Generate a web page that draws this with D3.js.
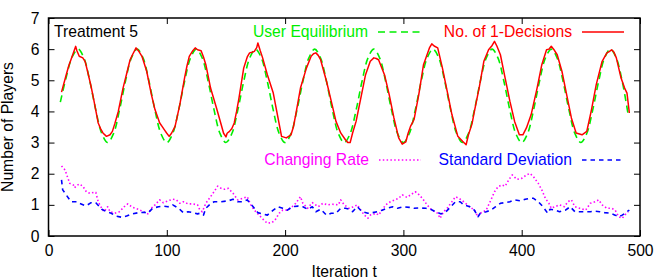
<!DOCTYPE html>
<html>
<head>
<meta charset="utf-8">
<script src="https://cdn.jsdelivr.net/npm/d3@7"></script>
<style>
  html, body { margin: 0; padding: 0; background: #ffffff; }
  svg { display: block; font-family: 'Liberation Sans', Arial, Helvetica, sans-serif; }
</style>
</head>
<body>
<div id="chart"></div>
<script>
// iteration ticks / value ticks
const xTicks = [0, 100, 200, 300, 400, 500]
const yTicks = [0, 1, 2, 3, 4, 5, 6, 7]

// user equilibrium, sampled every 5 iterations from t = 10
const ueIter = d3.range(10, 491, 5)
const ueVal = [
  4.3, 5.1, 5.75,
  6.0, 5.71, 4.96, 4.04, 3.29, 3.0, 3.29, 4.04, 4.96, 5.71,
  6.0, 5.71, 4.96, 4.04, 3.29, 3.0, 3.29, 4.04, 4.96, 5.71,
  6.0, 5.71, 4.96, 4.04, 3.29, 3.0, 3.29, 4.04, 4.96, 5.71,
  6.0, 5.71, 4.96, 4.04, 3.29, 3.0, 3.29, 4.04, 4.96, 5.71,
  6.0, 5.71, 4.96, 4.04, 3.29, 3.0, 3.29, 4.04, 4.96, 5.71,
  6.0, 5.71, 4.96, 4.04, 3.29, 3.0, 3.29, 4.04, 4.96, 5.71,
  6.0, 5.71, 4.96, 4.04, 3.29, 3.0, 3.29, 4.04, 4.96, 5.71,
  6.0, 5.71, 4.96, 4.04, 3.29, 3.0, 3.29, 4.04, 4.96, 5.71,
  6.0, 5.71, 4.96, 4.04, 3.29, 3.0, 3.29, 4.04, 4.96, 5.71,
  6.0, 5.71, 4.96, 3.9
]

// number of 1-decisions
const decIter = [11, 15, 17, 21, 23, 24, 26, 29, 31, 33, 36, 38, 42, 44, 46, 49, 52, 54, 56, 59,
  63, 66, 69, 71, 74, 76, 79, 83, 87, 90, 94, 96, 98, 100, 102, 104, 107, 111, 115, 117,
  119, 122, 124, 126, 129, 131, 133, 137, 142, 146, 148, 150, 151, 153, 155, 157, 159, 161, 165, 168,
  170, 172, 174, 176, 177, 179, 181, 185, 190, 194, 197, 201, 203, 205, 207, 209, 213, 218, 222, 224,
  226, 228, 230, 235, 239, 243, 247, 251, 253, 255, 257, 260, 264, 268, 272, 275, 277, 279, 284, 288,
  292, 296, 299, 302, 304, 306, 309, 313, 317, 322, 324, 326, 329, 333, 337, 341, 346, 350, 353, 355,
  358, 360, 364, 368, 372, 375, 377, 379, 382, 386, 390, 394, 398, 401, 404, 408, 413, 417, 421, 423,
  425, 427, 430, 434, 438, 442, 446, 451, 455, 457, 459, 463, 468, 472, 474, 476, 478, 480, 484, 487,
  489, 491]
const decVal = [4.62, 5.18, 5.45, 5.88, 6.09, 5.95, 5.77, 5.72, 5.6, 5.29, 4.8, 4.43, 3.63, 3.45, 3.31, 3.2, 3.25, 3.36, 3.6, 4.0,
  4.75, 5.2, 5.66, 5.82, 6.04, 5.95, 5.77, 5.29, 4.54, 4.06, 3.63, 3.52, 3.41, 3.3, 3.2, 3.3, 3.52, 4.22, 5.07, 5.45,
  5.77, 5.95, 6.04, 5.98, 5.95, 5.75, 5.5, 4.75, 4.11, 3.57, 3.3, 3.18, 3.3, 3.36, 3.45, 3.63, 4.0, 4.43, 5.39, 5.75,
  5.88, 5.9, 5.93, 6.05, 6.2, 5.95, 5.72, 5.18, 4.59, 3.79, 3.2, 3.15, 3.2, 3.25, 3.5, 3.9, 4.75, 5.39, 5.77, 5.85,
  5.88, 5.8, 5.66, 4.97, 4.33, 3.68, 3.31, 3.09, 3.0, 3.0, 3.3, 3.68, 4.43, 5.18, 5.61, 5.72, 5.7, 5.66, 5.18, 4.54,
  3.79, 3.15, 2.95, 3.02, 3.3, 3.52, 3.74, 4.54, 5.5, 6.04, 6.17, 6.1, 6.04, 5.39, 4.65, 3.9, 3.2, 3.04, 2.93, 3.25,
  3.6, 4.0, 4.75, 5.61, 5.98, 6.12, 6.25, 6.1, 5.82, 5.07, 4.33, 3.68, 3.25, 3.25, 3.47, 3.9, 4.75, 5.5, 5.98, 6.0,
  6.09, 6.0, 5.82, 5.29, 4.54, 3.79, 3.31, 3.25, 3.36, 3.7, 4.06, 4.86, 5.61, 5.88, 5.92, 5.98, 5.9, 5.72, 5.07, 4.75,
  4.59, 3.95]

// changing rate
const rateIter = [11, 14, 16, 18, 21, 22, 24, 26, 29, 32, 35, 38, 40, 42, 45, 47, 50, 52, 56, 60,
  64, 67, 71, 76, 80, 84, 87, 90, 94, 97, 101, 105, 108, 111, 114, 118, 122, 126, 128, 130,
  133, 136, 139, 143, 146, 149, 152, 156, 160, 164, 168, 171, 174, 178, 182, 185, 189, 192, 195, 198,
  202, 206, 209, 213, 215, 219, 223, 228, 232, 236, 240, 245, 247, 250, 254, 258, 261, 264, 267, 270,
  272, 277, 279, 282, 285, 289, 294, 296, 299, 303, 306, 310, 312, 316, 320, 324, 329, 331, 334, 337,
  341, 344, 347, 351, 356, 360, 363, 365, 370, 374, 377, 380, 383, 386, 389, 392, 396, 400, 404, 407,
  410, 414, 417, 420, 423, 425, 428, 432, 436, 439, 442, 445, 449, 454, 458, 462, 465, 468, 472, 476,
  479, 482, 485, 487, 490]
const rateVal = [2.25, 2.12, 1.9, 1.69, 1.64, 1.55, 1.62, 1.67, 1.6, 1.42, 1.37, 1.4, 1.4, 1.1, 0.89, 0.78, 0.94, 0.78, 0.73, 0.78,
  0.94, 1.03, 0.92, 0.86, 0.78, 0.71, 0.89, 1.0, 1.16, 1.07, 1.13, 1.18, 1.16, 1.05, 1.1, 1.03, 1.03, 1.0, 0.83, 0.78,
  1.05, 1.21, 1.37, 1.6, 1.53, 1.5, 1.53, 1.37, 1.16, 1.21, 1.26, 1.0, 0.83, 0.67, 0.51, 0.41, 0.43, 0.54, 0.73, 0.83,
  0.83, 0.94, 1.05, 1.26, 1.05, 0.89, 1.07, 0.94, 1.05, 1.0, 1.02, 1.0, 1.16, 1.0, 0.89, 0.94, 1.0, 0.83, 0.67, 0.57,
  0.67, 0.73, 0.67, 0.83, 1.0, 1.1, 1.18, 1.21, 1.32, 1.24, 1.32, 1.42, 1.37, 1.21, 1.0, 0.83, 0.73, 0.57, 0.78, 0.89,
  1.1, 1.26, 1.21, 1.1, 0.94, 0.83, 0.62, 0.73, 0.83, 1.16, 1.42, 1.58, 1.64, 1.6, 1.8, 1.96, 1.82, 1.85, 1.96, 2.01,
  1.9, 1.69, 1.48, 1.21, 1.05, 0.89, 0.94, 1.0, 0.94, 1.1, 1.16, 0.94, 0.89, 0.83, 1.05, 1.1, 1.16, 1.0, 0.89, 0.89,
  0.83, 0.62, 0.57, 0.67, 0.78]

// standard deviation
const sdIter = [11, 12, 15, 19, 24, 26, 31, 33, 36, 40, 45, 49, 53, 57, 62, 66, 70, 76, 81, 84,
  88, 93, 97, 101, 105, 110, 114, 118, 122, 126, 128, 131, 133, 136, 140, 146, 152, 156, 160, 164,
  168, 173, 177, 181, 185, 190, 194, 198, 202, 206, 211, 215, 219, 223, 226, 230, 235, 239, 243, 247,
  251, 254, 257, 261, 265, 270, 274, 278, 282, 286, 291, 295, 300, 305, 309, 313, 319, 323, 327, 332,
  336, 340, 344, 348, 351, 356, 360, 363, 365, 370, 374, 378, 382, 386, 390, 394, 399, 403, 407, 410,
  414, 418, 422, 424, 428, 432, 437, 441, 445, 449, 454, 458, 462, 466, 470, 475, 479, 482, 485, 489,
  491]
const sdVal = [1.8, 1.48, 1.32, 1.1, 1.1, 1.05, 0.97, 1.0, 1.07, 1.07, 0.86, 0.78, 0.73, 0.64, 0.6, 0.64, 0.7, 0.75, 0.76, 0.73,
  0.89, 0.94, 0.96, 0.94, 1.0, 0.89, 0.75, 0.78, 0.75, 0.71, 0.73, 0.67, 0.89, 1.0, 1.1, 1.1, 1.13, 1.18, 1.1, 1.1,
  1.16, 0.94, 0.75, 0.71, 0.67, 0.83, 0.94, 0.89, 0.83, 0.94, 0.96, 0.94, 0.86, 0.94, 0.78, 0.86, 0.67, 0.73, 0.73, 0.89,
  0.89, 0.86, 0.78, 0.94, 0.78, 0.73, 0.75, 0.78, 0.83, 0.89, 0.94, 0.89, 0.94, 0.92, 0.89, 0.9, 0.89, 0.86, 0.78, 0.71,
  0.78, 0.94, 1.1, 1.1, 1.0, 0.94, 0.83, 0.62, 0.73, 0.78, 0.83, 0.94, 1.05, 1.07, 1.1, 1.16, 1.13, 1.18, 1.21, 1.21,
  1.1, 0.94, 0.73, 0.86, 0.83, 0.78, 0.83, 0.94, 0.78, 0.78, 0.78, 0.78, 0.8, 0.78, 0.75, 0.73, 0.67, 0.62, 0.67, 0.78,
  0.83]

const width = 666
const height = 280
const margin = { top: 18, right: 26, bottom: 44, left: 48.5 }
const fontSize = '15.7px'

const svg = d3
  .select('#chart')
  .append('svg')
  .attr('width', width)
  .attr('height', height)

const xScale = d3
  .scaleLinear()
  .domain([0, 500])
  .range([margin.left, width - margin.right])

const yScale = d3
  .scaleLinear()
  .domain([0, 7])
  .range([height - margin.bottom, margin.top])

const x0 = xScale.range()[0]
const x1 = xScale.range()[1]
const y0 = yScale.range()[0]
const y1 = yScale.range()[1]

svg
  .append('defs')
  .append('clipPath')
  .attr('id', 'plotClip')
  .append('rect')
  .attr('x', x0)
  .attr('y', y1)
  .attr('width', x1 - x0)
  .attr('height', y0 - y1)

// axes: inward ticks on all four sides
const styleAxis = (g) => {
  g.select('.domain').remove()
  g.selectAll('.tick line').attr('stroke', '#000').attr('stroke-width', 1)
  g.selectAll('.tick text')
    .style('font-size', fontSize)
    .style('font-family', "'Liberation Sans', Arial, sans-serif")
    .attr('fill', '#000')
}

svg
  .append('g')
  .attr('transform', `translate(0, ${y0})`)
  .call(d3.axisBottom(xScale).tickValues(xTicks).tickSizeInner(-6).tickSizeOuter(0).tickPadding(9))
  .call(styleAxis)

svg
  .append('g')
  .attr('transform', `translate(0, ${y1})`)
  .call(d3.axisTop(xScale).tickValues(xTicks).tickSizeInner(-6).tickSizeOuter(0).tickFormat(''))
  .call(styleAxis)

svg
  .append('g')
  .attr('transform', `translate(${x0}, 0)`)
  .call(d3.axisLeft(yScale).tickValues(yTicks).tickFormat(d3.format('d')).tickSizeInner(-6).tickSizeOuter(0).tickPadding(9))
  .call(styleAxis)

svg
  .append('g')
  .attr('transform', `translate(${x1}, 0)`)
  .call(d3.axisRight(yScale).tickValues(yTicks).tickSizeInner(-6).tickSizeOuter(0).tickFormat(''))
  .call(styleAxis)

// series
const zip = (xs, ys) => xs.map((t, i) => ({ t: t, v: ys[i] }))

const series = [
  { name: 'User Equilibrium', data: zip(ueIter, ueVal), color: '#00ee00', dash: '7,4.5', width: 1.6, curve: d3.curveCatmullRom },
  { name: 'No. of 1-Decisions', data: zip(decIter, decVal), color: '#ff0000', dash: null, width: 1.5, curve: d3.curveLinear },
  { name: 'Changing Rate', data: zip(rateIter, rateVal), color: '#ff00ff', dash: '1.5,2.3', width: 1.6, curve: d3.curveLinear },
  { name: 'Standard Deviation', data: zip(sdIter, sdVal), color: '#0000ff', dash: '4.5,4', width: 1.6, curve: d3.curveLinear }
]

const plot = svg.append('g').attr('clip-path', 'url(#plotClip)')

series.forEach((s) => {
  const line = d3
    .line()
    .x((d) => xScale(d.t))
    .y((d) => yScale(d.v))
    .curve(s.curve)
  plot
    .append('path')
    .datum(s.data)
    .attr('fill', 'none')
    .attr('stroke', s.color)
    .attr('stroke-width', s.width)
    .attr('stroke-dasharray', s.dash)
    .attr('stroke-linejoin', 'round')
    .attr('d', line)
})

// frame
svg
  .append('rect')
  .attr('x', x0)
  .attr('y', y1)
  .attr('width', x1 - x0)
  .attr('height', y0 - y1)
  .attr('fill', 'none')
  .attr('stroke', '#000')
  .attr('stroke-width', 1.5)

// legends (text right aligned, sample to the right)
const legendRows = [
  { s: series[0], textEnd: 368, sx: 378, y: 32 },
  { s: series[1], textEnd: 572, sx: 582, y: 32 },
  { s: series[2], textEnd: 369, sx: 379, y: 160 },
  { s: series[3], textEnd: 572, sx: 582, y: 160 }
]

legendRows.forEach((r) => {
  svg
    .append('text')
    .attr('x', r.textEnd)
    .attr('y', r.y + 5)
    .attr('text-anchor', 'end')
    .style('font-size', fontSize)
    .attr('fill', r.s.color)
    .text(r.s.name)
  svg
    .append('line')
    .attr('x1', r.sx)
    .attr('x2', r.sx + 42)
    .attr('y1', r.y)
    .attr('y2', r.y)
    .attr('stroke', r.s.color)
    .attr('stroke-width', r.s.width)
    .attr('stroke-dasharray', r.s.dash)
})

svg
  .append('text')
  .attr('x', 54)
  .attr('y', 36.5)
  .style('font-size', fontSize)
  .attr('fill', '#000')
  .text('Treatment 5')

// axis labels
svg
  .append('text')
  .attr('x', (x0 + x1) / 2)
  .attr('y', 277)
  .attr('text-anchor', 'middle')
  .style('font-size', fontSize)
  .attr('fill', '#000')
  .text('Iteration t')

svg
  .append('text')
  .attr('transform', `translate(13, ${(y0 + y1) / 2}) rotate(-90)`)
  .attr('text-anchor', 'middle')
  .style('font-size', fontSize)
  .attr('fill', '#000')
  .text('Number of Players')
</script>
</body>
</html>
